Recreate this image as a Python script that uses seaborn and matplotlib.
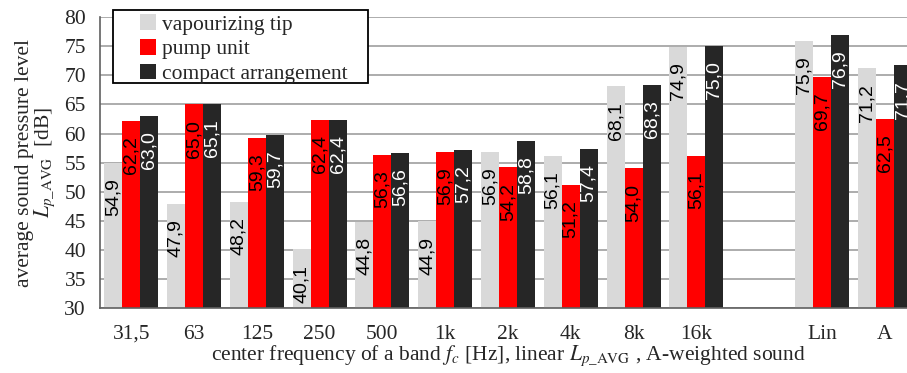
import numpy as np
import pandas as pd
import matplotlib
matplotlib.use("Agg")
import matplotlib.pyplot as plt
from matplotlib.patches import Rectangle
import seaborn as sns

# Chart data
categories = ["31,5", "63", "125", "250", "500", "1k", "2k", "4k", "8k", "16k", "", "Lin", "A"]
series = ["vapourizing tip", "pump unit", "compact arrangement"]
vapourizing_tip = [54.9, 47.9, 48.2, 40.1, 44.8, 44.9, 56.9, 56.1, 68.1, 74.9, np.nan, 75.9, 71.2]
pump_unit = [62.2, 65.0, 59.3, 62.4, 56.3, 56.9, 54.2, 51.2, 54.0, 56.1, np.nan, 69.7, 62.5]
compact_arrangement = [63.0, 65.1, 59.7, 62.4, 56.6, 57.2, 58.8, 57.4, 68.3, 75.0, np.nan, 76.9, 71.7]

colors = ["#d9d9d9", "#ff0000", "#262626"]
label_colors = ["black", "black", "white"]

df = pd.DataFrame({
    "band": categories * 3,
    "series": np.repeat(series, len(categories)),
    "level": vapourizing_tip + pump_unit + compact_arrangement,
})

sns.set_style("white")
plt.rcParams["font.family"] = ["Liberation Serif", "DejaVu Serif"]
plt.rcParams["mathtext.fontset"] = "stix"

W, H = 907, 373
fig = plt.figure(figsize=(W / 100, H / 100), dpi=100)
ax = fig.add_axes([0.110, 0.174, 0.90, 0.780])

sns.barplot(data=df, x="band", y="level", hue="series", order=categories,
            hue_order=series, palette=colors, width=0.86, gap=0,
            saturation=1, errorbar=None, linewidth=0, ax=ax, zorder=2)

ax.set_ylim(30, 80)
ax.set_xlim(-0.5, len(categories) - 0.5)
ax.set_yticks(np.arange(30, 81, 5))
ax.yaxis.grid(True, color="#a6a6a6", linewidth=1.3, zorder=0)
ax.set_axisbelow(True)

# ticks between categories, labels in the middle
ax.set_xticks(np.arange(-0.5, len(categories), 1), labels=[""] * (len(categories) + 1))
ax.set_xticks(np.arange(len(categories)), labels=categories, minor=True)
ax.tick_params(axis="x", which="major", direction="out", length=7, width=1.2, color="#606060")
ax.tick_params(axis="x", which="minor", length=0, pad=12, labelsize=15.5)
ax.tick_params(axis="y", direction="out", length=6, width=1.2, color="#606060", labelsize=15.5, pad=4)

for side in ["top", "right"]:
    ax.spines[side].set_visible(False)
for side in ["left", "bottom"]:
    ax.spines[side].set_color("#606060")
    ax.spines[side].set_linewidth(1.2)

# value labels inside bars
for container, tcol in zip(ax.containers, label_colors):
    for bar in container:
        h = bar.get_height()
        if np.isnan(h):
            continue
        ax.annotate(f"{h:.1f}".replace(".", ","),
                    (bar.get_x() + bar.get_width() / 2, h),
                    xytext=(0, -11), textcoords="offset points",
                    rotation=90, ha="center", va="top", color=tcol,
                    fontsize=14, family=["Liberation Sans", "DejaVu Sans"], zorder=5)

ax.set_ylabel("average sound pressure level\n$L_{p\\_\\mathrm{AVG}}$  [dB]",
              fontsize=15.5, linespacing=0.95, labelpad=5)
ax.set_xlabel("center frequency of a band $f_c$ [Hz], linear $L_{p\\_\\mathrm{AVG}}$ , A-weighted sound",
              fontsize=15.5, labelpad=0)

# legend box (wider padding like the original)
box = Rectangle((113 / W, 1 - 83 / H), 255 / W, 73 / H, transform=fig.transFigure,
                facecolor="white", edgecolor="black", linewidth=1.3, zorder=9)
fig.patches.append(box)

handles, labels = ax.get_legend_handles_labels()
leg = fig.legend(handles, labels, loc="upper left", bbox_to_anchor=(136 / W, 1 - 10 / H),
                 borderaxespad=0, fontsize=15.5, frameon=False,
                 handlelength=0.75, handleheight=0.75, handletextpad=0.25,
                 labelspacing=0.2, borderpad=0.2)
leg.set_zorder(10)
ax.get_legend().remove()

fig.savefig("out.png", dpi=100)
